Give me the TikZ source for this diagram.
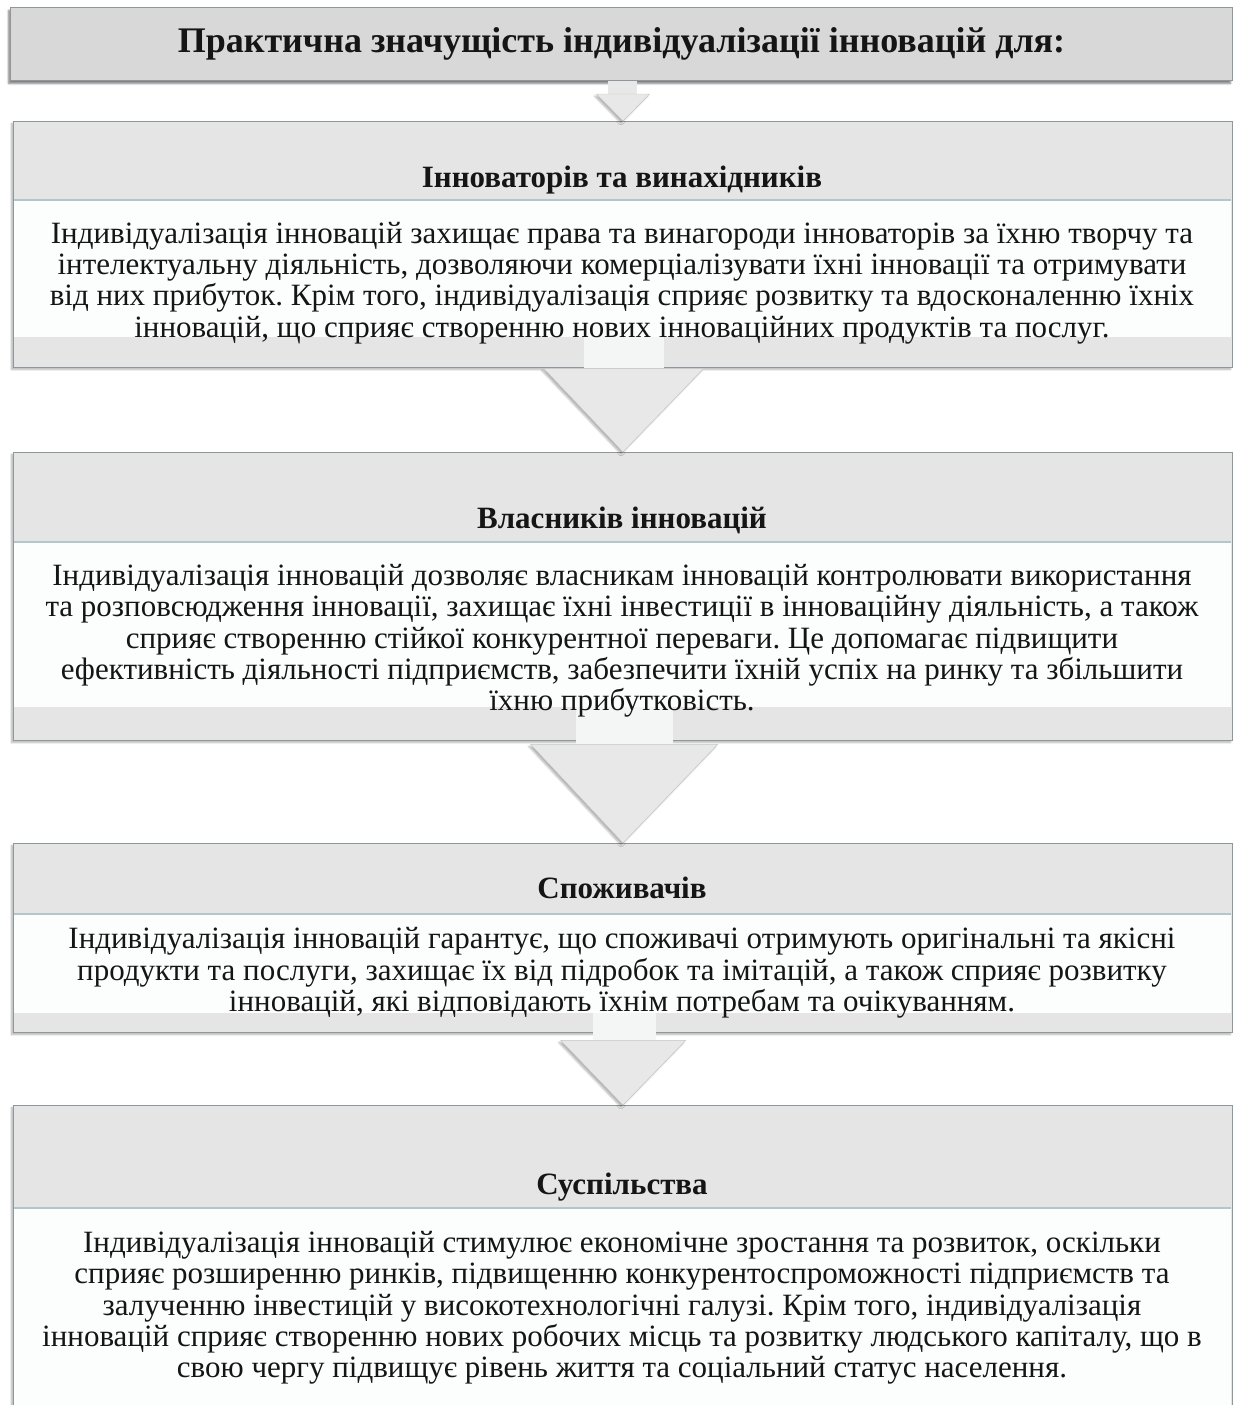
\documentclass[tikz,border=0pt]{standalone}
\usepackage{fontspec}
\setmainfont{Liberation Serif}
\usetikzlibrary{shadows,shadows.blur,calc}

\definecolor{titlegray}{HTML}{D8D8D8}
\definecolor{panelgray}{HTML}{E5E5E5}
\definecolor{boxline}{HTML}{8E979B}
\definecolor{bodywhite}{HTML}{FCFDFD}
\definecolor{bodyline}{HTML}{B3C6CA}
\definecolor{arrowgray}{HTML}{E8E8E8}
\definecolor{shaftwhite}{HTML}{F4F6F6}
\definecolor{inktext}{HTML}{151515}

\begin{document}
\frenchspacing
\begin{tikzpicture}[x=1pt,y=-1pt,
  titlebox/.style={draw=boxline, fill=titlegray, line width=1pt, anchor=north west,
    inner sep=0pt, font=\fontsize{36}{40}\selectfont\bfseries, text=inktext,
    blur shadow={shadow xshift=-2pt, shadow yshift=-3pt, shadow opacity=50, shadow blur steps=6}},
  panel/.style={draw=boxline, fill=panelgray, line width=1pt, anchor=north west,
    inner sep=0pt,
    blur shadow={shadow xshift=-2pt, shadow yshift=-2pt, shadow opacity=30, shadow blur steps=5}},
  bodybox/.style={fill=bodywhite, anchor=north west, inner sep=0pt},
  heading/.style={font=\fontsize{31}{34}\selectfont\bfseries, text=inktext, inner sep=0pt},
  bodytext/.style={font=\fontsize{31}{31.3}\selectfont, text=inktext, align=center, inner sep=0pt},
  arrowhead/.style={fill=arrowgray, draw=arrowgray!85!black, line width=0.4pt,
    blur shadow={shadow xshift=-2pt, shadow yshift=-2pt, shadow opacity=30, shadow blur steps=5}},
  arrowshaft/.style={fill=shaftwhite},
]
\useasboundingbox (0,0) rectangle (1237,1405);
\clip (0,0) rectangle (1237,1405);

% title bar
\node[titlebox, minimum width=1222pt, minimum height=73pt] (title) at (10,7)
  {Практична значущість індивідуалізації інновацій для:};

% ---- panels: grey frame with a white text area
\node[panel, minimum width=1219pt, minimum height=246pt] (p1) at (13,121) {};
\node[bodybox, minimum width=1217pt, minimum height=137pt] (b1) at (14,200) {};
\draw[bodyline, line width=1.2pt] (b1.north west) -- (b1.north east);

\node[panel, minimum width=1219pt, minimum height=288pt] (p2) at (13,452) {};
\node[bodybox, minimum width=1217pt, minimum height=165pt] (b2) at (14,542) {};
\draw[bodyline, line width=1.2pt] (b2.north west) -- (b2.north east);

\node[panel, minimum width=1219pt, minimum height=189pt] (p3) at (13,843) {};
\node[bodybox, minimum width=1217pt, minimum height=99pt] (b3) at (14,914) {};
\draw[bodyline, line width=1.2pt] (b3.north west) -- (b3.north east);

% the last panel runs past the lower edge
\node[panel, minimum width=1219pt, minimum height=320pt] (p4) at (13,1105) {};
\node[bodybox, minimum width=1217pt, minimum height=220pt] (b4) at (14,1208) {};
\draw[bodyline, line width=1.2pt] (b4.north west) -- (b4.north east);

% ---- block arrows between the panels
% title -> panel 1
\fill[arrowgray] ($(title.south)+(-14,0)$) rectangle ($(title.south)+(15,13)$);
\path[arrowhead] ($(title.south)+(-25,13)$) -- ($(title.south)+(28,13)$) -- (p1.north -| 623,0) -- cycle;
% panel 1 -> panel 2
\fill[arrowshaft] ($(b1.south)+(-39,0)$) rectangle ($(b1.south)+(41,31)$);
\path[arrowhead] ($(b1.south)+(-79,31)$) -- ($(b1.south)+(81,31)$) -- (p2.north -| 623,0) -- cycle;
% panel 2 -> panel 3
\fill[arrowshaft] ($(b2.south)+(-47,0)$) rectangle ($(b2.south)+(50,37)$);
\path[arrowhead] ($(b2.south)+(-92,37)$) -- ($(b2.south)+(95,37)$) -- (p3.north -| 623,0) -- cycle;
% panel 3 -> panel 4
\fill[arrowshaft] ($(b3.south)+(-30,0)$) rectangle ($(b3.south)+(33,27)$);
\path[arrowhead] ($(b3.south)+(-62,27)$) -- ($(b3.south)+(63,27)$) -- (p4.north -| 623,0) -- cycle;

% ---- headings and texts
\node[heading] (h1) at (622,180) {Інноваторів та винахідників};
\node[bodytext] (t1) at (622,283) {Індивідуалізація інновацій захищає права та винагороди інноваторів за їхню творчу та\\
інтелектуальну діяльність, дозволяючи комерціалізувати їхні інновації та отримувати\\
від них прибуток. Крім того, індивідуалізація сприяє розвитку та вдосконаленню їхніх\\
інновацій, що сприяє створенню нових інноваційних продуктів та послуг.};

\node[heading] (h2) at (622,520) {Власників інновацій};
\node[bodytext] (t2) at (622,641) {Індивідуалізація інновацій дозволяє власникам інновацій контролювати використання\\
та розповсюдження інновації, захищає їхні інвестиції в інноваційну діяльність, а також\\
сприяє створенню стійкої конкурентної переваги. Це допомагає підвищити\\
ефективність діяльності підприємств, забезпечити їхній успіх на ринку та збільшити\\
їхню прибутковість.};

\node[heading] (h3) at (622,888) {Споживачів};
\node[bodytext] (t3) at (622,973) {Індивідуалізація інновацій гарантує, що споживачі отримують оригінальні та якісні\\
продукти та послуги, захищає їх від підробок та імітацій, а також сприяє розвитку\\
інновацій, які відповідають їхнім потребам та очікуванням.};

\node[heading] (h4) at (622,1187) {Суспільства};
\node[bodytext] (t4) at (622,1308) {Індивідуалізація інновацій стимулює економічне зростання та розвиток, оскільки\\
сприяє розширенню ринків, підвищенню конкурентоспроможності підприємств та\\
залученню інвестицій у високотехнологічні галузі. Крім того, індивідуалізація\\
інновацій сприяє створенню нових робочих місць та розвитку людського капіталу, що в\\
свою чергу підвищує рівень життя та соціальний статус населення.};
\end{tikzpicture}
\end{document}
